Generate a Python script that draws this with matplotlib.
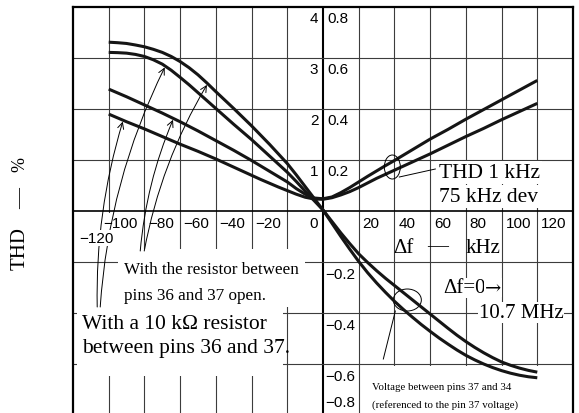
import numpy as np
import matplotlib
matplotlib.use("Agg")
import matplotlib.pyplot as plt
from matplotlib.patches import Rectangle, Ellipse

# ---------------- data ----------------
freq_khz = list(range(-120, 121, 5))
# THD (%) at 1 kHz, 75 kHz dev
thd_open = [2.39, 2.315, 2.24, 2.16, 2.08, 2.00, 1.92, 1.835, 1.75, 1.66, 1.57, 1.475, 1.38,
            1.285, 1.19, 1.09, 0.99, 0.885, 0.78, 0.675, 0.57, 0.44, 0.33, 0.255, 0.24,
            0.275, 0.36, 0.46, 0.57, 0.68, 0.785, 0.89, 0.99, 1.095, 1.20, 1.305, 1.41,
            1.505, 1.60, 1.70, 1.80, 1.895, 1.99, 2.085, 2.18, 2.275, 2.37, 2.465, 2.56]
thd_10k = [1.90, 1.825, 1.75, 1.68, 1.61, 1.535, 1.46, 1.385, 1.31, 1.24, 1.17, 1.095, 1.02,
           0.94, 0.86, 0.78, 0.70, 0.62, 0.545, 0.47, 0.40, 0.33, 0.27, 0.235, 0.23,
           0.26, 0.315, 0.38, 0.46, 0.55, 0.64, 0.72, 0.80, 0.88, 0.96, 1.04, 1.12,
           1.205, 1.29, 1.375, 1.46, 1.54, 1.62, 1.705, 1.79, 1.87, 1.95, 2.03, 2.11]
# Voltage between pins 37 and 34 (V)
volt_open = [0.662, 0.660, 0.657, 0.651, 0.644, 0.634, 0.622, 0.606, 0.586, 0.562, 0.534,
             0.502, 0.468, 0.435, 0.402, 0.368, 0.334, 0.298, 0.262, 0.224, 0.186, 0.142,
             0.096, 0.050, 0.004, -0.048, -0.100, -0.150, -0.198, -0.242, -0.282, -0.319,
             -0.354, -0.386, -0.416, -0.445, -0.472, -0.498, -0.522, -0.545, -0.566, -0.584,
             -0.600, -0.614, -0.626, -0.636, -0.644, -0.650, -0.654]
volt_10k = [0.622, 0.621, 0.619, 0.614, 0.606, 0.593, 0.576, 0.552, 0.524, 0.495, 0.464,
            0.433, 0.402, 0.371, 0.340, 0.310, 0.280, 0.248, 0.216, 0.184, 0.152, 0.116,
            0.078, 0.041, 0.004, -0.041, -0.086, -0.128, -0.168, -0.202, -0.234, -0.264,
            -0.292, -0.320, -0.348, -0.376, -0.404, -0.432, -0.460, -0.487, -0.512, -0.535,
            -0.556, -0.575, -0.592, -0.605, -0.616, -0.625, -0.632]

x_ticks = [-120, -100, -80, -60, -40, -20, 0, 20, 40, 60, 80, 100, 120]
thd_ticks = [1, 2, 3, 4]
volt_ticks_pos = [0.2, 0.4, 0.6, 0.8]
volt_ticks_neg = [-0.2, -0.4, -0.6, -0.8]

# ---------------- figure ----------------
W, H = 579, 414
fig = plt.figure(figsize=(W / 100, H / 100), dpi=100)
ax = fig.add_axes([73 / W, -2 / H, 500 / W, 408 / H])
ax.set_xlim(-140, 140)
ax.set_ylim(-4, 4)
ax2 = ax.twinx()
ax2.set_ylim(-0.8, 0.8)
for a in (ax, ax2):
    a.set_xticks([])
    a.set_yticks([])
for s in ax2.spines.values():
    s.set_visible(False)
for s in ax.spines.values():
    s.set_linewidth(1.6)
    s.set_color('black')


def P(xp, yp):
    """pixel position in the picture -> data position on ax (placement helper)"""
    return ((xp - 322.7) * 20 / 35.7, (212 - yp) / 51)


serif = ['Liberation Serif', 'DejaVu Serif']
sans = ['Liberation Sans', 'DejaVu Sans']
gcol = '#3c3c3c'

# grid
for xv in x_ticks:
    if xv != 0:
        ax.axvline(xv, color=gcol, lw=0.8, zorder=0.9)
ax.axvline(0, color='black', lw=1.5, zorder=1.0)
for yv in range(-3, 4):
    if yv != 0:
        ax.axhline(yv, color=gcol, lw=0.8, zorder=1.0)
ax.axhline(0, color='black', lw=1.2, zorder=1.0)


def white_rect(x0, y0, x1, y1, z):
    a0 = P(x0, y1)
    a1 = P(x1, y0)
    ax.add_patch(Rectangle(a0, a1[0] - a0[0], a1[1] - a0[1], facecolor='white',
                           edgecolor='none', zorder=z))


white_rect(104, 214, 113, 310, 0.95)     # hides -120 vertical line only
white_rect(118, 250, 305, 308, 1.5)      # "With the resistor between"
white_rect(77, 308, 283, 377, 1.5)       # "With a 10 kOhm resistor"
white_rect(365, 367, 565, 416, 1.5)      # "Voltage between ..."

# curves
lw = 2.2
kw = dict(color='#151515', lw=lw, zorder=4, solid_capstyle='butt', solid_joinstyle='round')
ax.plot(freq_khz, thd_open, **kw)
ax.plot(freq_khz, thd_10k, **kw)
ax2.plot(freq_khz, volt_open, **kw)
ax2.plot(freq_khz, volt_10k, **kw)

# tick labels
tfs = 11
for xv in x_ticks:
    if xv == -120:
        x, y = P(113, 239)
        ax.text(x, y, '\u2212120', ha='right', va='center', fontsize=tfs, family=sans, zorder=3,
                bbox=dict(facecolor='white', edgecolor='none', pad=0.5))
    elif xv < 0:
        ax.text(xv - 3.6, -0.235, '\u2212%d' % (-xv), ha='right', va='center', fontsize=tfs,
                family=sans, zorder=3)
    elif xv == 0:
        ax.text(-2.9, -0.235, '0', ha='right', va='center', fontsize=tfs, family=sans, zorder=3)
    else:
        ax.text(xv + 2.2, -0.235, '%d' % xv, ha='left', va='center', fontsize=tfs, family=sans,
                zorder=3)
for tv in thd_ticks:
    ax.text(-2.6, tv - 0.225, '%d' % tv, ha='right', va='center', fontsize=tfs, family=sans)
for vv in volt_ticks_pos:
    ax2.text(2.4, vv - 0.045, '%.1f' % vv, ha='left', va='center', fontsize=tfs, family=sans)
for vv in volt_ticks_neg:
    yy = vv - 0.047 if vv > -0.7 else vv + 0.051
    ax2.text(1.3, yy, '\u2212%.1f' % (-vv), ha='left', va='center', fontsize=tfs, family=sans)

# axis label texts
x, y = P(392.7, 253.3)
ax.text(x, y, '\u0394f', ha='left', va='baseline', fontsize=15, family=serif, zorder=3)
x, y = P(437.5, 247)
ax.text(x, y, '\u2014', ha='center', va='center', fontsize=15, family=serif, zorder=3)
x, y = P(500.5, 253.3)
ax.text(x, y, 'kHz', ha='right', va='baseline', fontsize=15, family=serif, zorder=3)

fig.text(20 / W, 1 - 248 / H, 'THD', rotation=90, ha='center', va='center', fontsize=15,
         family=serif)
fig.text(21 / W, 1 - 199 / H, '\u2014', rotation=90, ha='center', va='center', fontsize=15,
         family=serif)
fig.text(20 / W, 1 - 165 / H, '%', rotation=90, ha='center', va='center', fontsize=13,
         family=serif)

# annotation texts
wb = dict(facecolor='white', edgecolor='none', pad=1.5)
x, y = P(438.3, 178.3)
ax.text(x, y, 'THD 1 kHz', ha='left', va='baseline', fontsize=15.5, family=serif, zorder=3,
        bbox=wb)
x, y = P(438.8, 202.3)
ax.text(x, y, '75 kHz dev', ha='left', va='baseline', fontsize=15.5, family=serif, zorder=3,
        bbox=wb)
x, y = P(443.3, 293.3)
ax.text(x, y, '\u0394f=0', ha='left', va='baseline', fontsize=15, family=serif, zorder=3,
        bbox=dict(facecolor='white', edgecolor='none', pad=0.5))
x, y = P(484.5, 293.3)
ax.text(x, y, '\u2192', ha='left', va='baseline', fontsize=14, family=['DejaVu Serif'],
        zorder=3, bbox=dict(facecolor='white', edgecolor='none', pad=0.3))
x, y = P(478.3, 318.3)
ax.text(x, y, '10.7 MHz', ha='left', va='baseline', fontsize=15, family=serif, zorder=3,
        bbox=dict(facecolor='white', edgecolor='none', pad=0.8))
x, y = P(124, 274)
ax.text(x, y, 'With the resistor between', ha='left', va='baseline', fontsize=12.3,
        family=serif, zorder=3)
x, y = P(124, 300)
ax.text(x, y, 'pins 36 and 37 open.', ha='left', va='baseline', fontsize=12.3,
        family=serif, zorder=3)
x, y = P(82, 329)
ax.text(x, y, 'With a 10 k\u03a9 resistor', ha='left', va='baseline', fontsize=15.5,
        family=serif, zorder=3)
x, y = P(82, 353)
ax.text(x, y, 'between pins 36 and 37.', ha='left', va='baseline', fontsize=15.5,
        family=serif, zorder=3)
x, y = P(371.7, 390)
ax.text(x, y, 'Voltage between pins 37 and 34', ha='left', va='baseline', fontsize=7.8,
        family=serif, zorder=3)
x, y = P(371.7, 407.3)
ax.text(x, y, '(referenced to the pin 37 voltage)', ha='left', va='baseline', fontsize=7.8,
        family=serif, zorder=3)

# loops + leader lines
cx, cy = P(392, 168)
ax.add_patch(Ellipse((cx, cy), 16 * 20 / 35.7, 24 / 51, angle=0, fill=False, lw=0.7,
                     edgecolor='black', zorder=5))
a0 = P(399, 178)
a1 = P(435, 170)
ax.plot([a0[0], a1[0]], [a0[1], a1[1]], color='black', lw=0.7, zorder=5)
cx, cy = P(407, 301)
ax.add_patch(Ellipse((cx, cy), 28 * 20 / 35.7, 22 / 51, angle=0, fill=False, lw=0.7,
                     edgecolor='black', zorder=5))
a0 = P(395, 312)
a1 = P(383, 360)
ax.plot([a0[0], a1[0]], [a0[1], a1[1]], color='black', lw=0.7, zorder=5)

# arrows from labels to curves
arrows = [
    ((97, 308), -111.9, thd_10k, ax, -0.08),
    ((100, 308), -88.3, volt_10k, ax2, -0.10),
    ((140, 252), -83.7, thd_open, ax, -0.08),
    ((144, 252), -64.6, volt_open, ax2, -0.09),
]
for tail, tx, series, tax, rad in arrows:
    ty = float(np.interp(tx, freq_khz, series))
    ax.annotate('', xy=(tx, ty), xycoords=tax.transData, xytext=P(*tail),
                textcoords=ax.transData,
                arrowprops=dict(arrowstyle='->', lw=0.7, color='black', shrinkA=0, shrinkB=1,
                                mutation_scale=11, connectionstyle='arc3,rad=%g' % rad),
                zorder=1.6)

fig.savefig('out.png', dpi=100)
